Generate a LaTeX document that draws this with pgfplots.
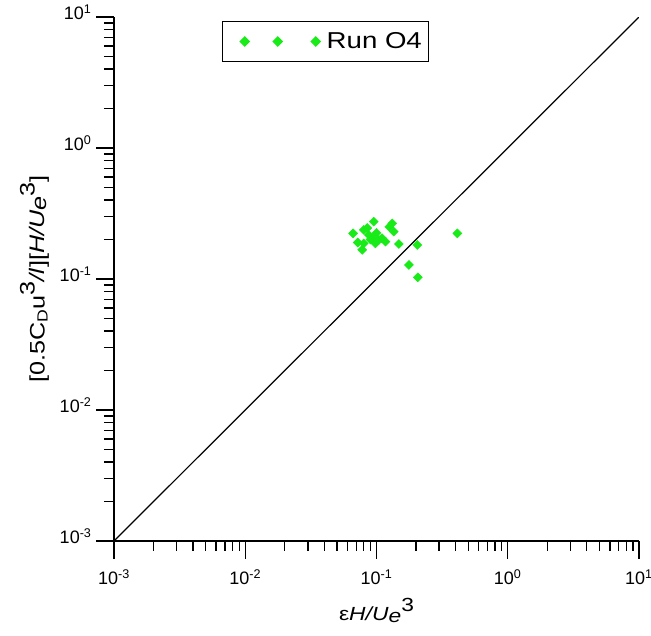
\documentclass[border=0pt]{standalone}
\usepackage{pgfplots}
\pgfplotsset{compat=1.18}
\usepackage{fontspec}
\setmainfont{Liberation Sans}
\newfontfamily\widefont[FakeStretch=1.2]{Liberation Sans}
\definecolor{ptgreen}{RGB}{25,235,25}
\begin{document}
\begin{tikzpicture}
\path[use as bounding box] (-114pt,-95pt) rectangle (537pt,541pt);
\begin{axis}[
  scale only axis,
  width=525pt, height=524pt,
  xmode=log, ymode=log,
  xmin=1e-3, xmax=10, ymin=1e-3, ymax=10,
  axis lines=left,
  axis line style={-, line width=1.3pt},
  tick align=outside,
  tick style={black, line width=1.3pt},
  major tick length=18pt,
  minor tick length=10pt,
  xtick={1e-3,1e-2,1e-1,1,10},
  ytick={1e-3,1e-2,1e-1,1,10},
  xticklabels={10\textsuperscript{-3},10\textsuperscript{-2},10\textsuperscript{-1},10\textsuperscript{0},10\textsuperscript{1}},
  yticklabels={10\textsuperscript{-3},10\textsuperscript{-2},10\textsuperscript{-1},10\textsuperscript{0},10\textsuperscript{1}},
  ticklabel style={font=\fontsize{18}{20}\selectfont},
  xticklabel style={yshift=-7pt},
  yticklabel style={xshift=-1pt, yshift=5pt},
  xlabel={\widefont\fontsize{19}{22}\selectfont ε\textit{H/U}\raisebox{-2pt}{\textit{e}}\raisebox{9pt}{3}},
  ylabel={\widefont\fontsize{21}{24}\selectfont [0.5C\textsubscript{D}u\raisebox{10pt}{3}\textit{/l}][\textit{H/U}\raisebox{-2pt}{\textit{e}}\raisebox{10pt}{3}]},
  xlabel style={yshift=-7pt},
  ylabel style={yshift=4pt},
  legend style={at={(0.206,0.992)}, anchor=north west, draw=black, line width=1.2pt,
    font=\widefont\fontsize{23}{25}\selectfont, inner xsep=5pt, inner ysep=9pt},
  legend image code/.code={\path[draw=none] (-17pt,0pt) rectangle (80pt,0pt); \draw[#1, draw=none] plot coordinates {(0pt,0pt) (33pt,0pt) (71pt,0pt)};},
  legend cell align=left,
]
\addplot[only marks, mark=square*, mark size=3.2pt, mark options={rotate=45, fill=ptgreen, draw=ptgreen}]
coordinates {
(0.0664,0.223) (0.0953,0.274) (0.1318,0.266) (0.1355,0.230) (0.080,0.237)
(0.0873,0.217) (0.0953,0.210) (0.1042,0.199) (0.1172,0.193) (0.080,0.187)
(0.0778,0.167) (0.0982,0.187) (0.148,0.185) (0.2047,0.182) (0.413,0.223)
(0.1767,0.128) (0.2065,0.103) (0.085,0.245) (0.09,0.2) (0.11,0.205)
(0.125,0.25) (0.1,0.225) (0.072,0.19)
};
\addlegendentry{Run O4}
\addplot[black, line width=1.2pt, forget plot] coordinates {(1e-3,1e-3) (10,10)};
\end{axis}
\end{tikzpicture}
\end{document}
